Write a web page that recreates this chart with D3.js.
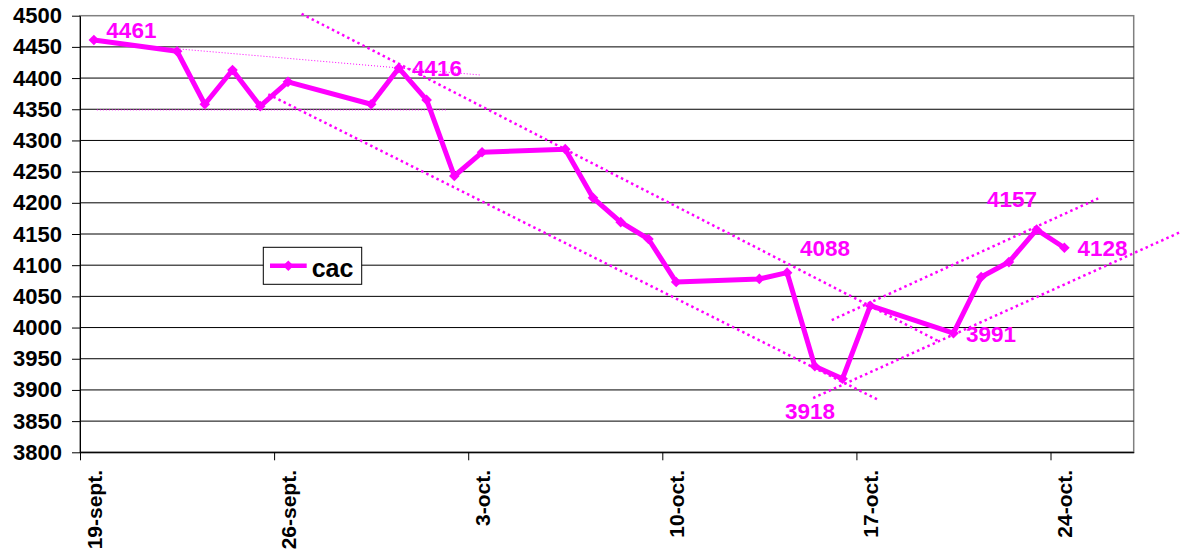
<!DOCTYPE html>
<html>
<head>
<meta charset="utf-8">
<script src="https://cdn.jsdelivr.net/npm/d3@7"></script>
<style>
  html, body { margin: 0; padding: 0; background: #fff; }
  svg { display: block; font-family: "Liberation Sans", Arial, sans-serif; font-weight: bold; }
</style>
</head>
<body>
<svg id="chart" width="1183" height="553"></svg>
<script>
// ---------- data ----------
const dates = ["2014-09-19","2014-09-22","2014-09-23","2014-09-24","2014-09-25","2014-09-26",
  "2014-09-29","2014-09-30","2014-10-01","2014-10-02","2014-10-03",
  "2014-10-06","2014-10-07","2014-10-08","2014-10-09","2014-10-10",
  "2014-10-13","2014-10-14","2014-10-15","2014-10-16","2014-10-17",
  "2014-10-20","2014-10-21","2014-10-22","2014-10-23","2014-10-24"];
const cac = [4461,4443,4358,4413,4355,4394,
  4358,4416,4365,4243,4281,
  4286,4208,4169,4142,4073,
  4078,4088,3938,3918,4035,
  3991,4081,4105,4157,4128];
const seriesName = "cac";

const yTickValues = [3800,3850,3900,3950,4000,4050,4100,4150,4200,4250,4300,4350,4400,4450,4500];
const xTickDates = ["2014-09-19","2014-09-26","2014-10-03","2014-10-10","2014-10-17","2014-10-24"];
const xTickLabels = ["19-sept.","26-sept.","3-oct.","10-oct.","17-oct.","24-oct."];
const xDomain = ["2014-09-19","2014-10-27"];

// annotated points (date of the point, text shown)
const labelDates = ["2014-09-19","2014-09-30","2014-10-14","2014-10-16","2014-10-20","2014-10-23","2014-10-24"];
const labelTexts = ["4461","4416","4088","3918","3991","4157","4128"];

// trend lines: [days after 19-sept, index value] start / end
const trendStarts = [[3.49,4447],[0.61,4349],[7.99,4503],[6.79,4374],[27.11,4012],[26.44,3887]];
const trendEnds   = [[14.42,4405],[13.27,4349],[31.01,3977],[28.79,3884],[36.72,4207],[39.73,4154]];
const trendKinds  = ["thin","thin","thick","thick","thick","thick"];

// ---------- layout ----------
const plotL = 80, plotR = 1133.7, plotT = 15.7, plotB = 452.3;
const MAGENTA = "#ff00ff";
// label offsets (px) relative to their point, same order as labelDates
const labelOffsets = [[12.5,-2],[13,8],[13,-17],[-57.6,40],[12.5,9],[-49.7,-23],[13,8]];

const parse = d3.utcParse("%Y-%m-%d");
const DAY = 864e5;
const svg = d3.select("#chart");

const x = d3.scaleUtc().domain(xDomain.map(parse)).range([plotL, plotR]);
const y = d3.scaleLinear().domain([3800, 4500]).range([plotB, plotT]);
const xc = s => x(new Date(+parse(s) + DAY / 2));   // point at middle of its day slot
const xd = d => x(new Date(+parse(xDomain[0]) + d * DAY));

// plot background
svg.append("rect").attr("x", plotL).attr("y", plotT)
  .attr("width", plotR - plotL).attr("height", plotB - plotT)
  .attr("fill", "#fff").attr("stroke", "#808080").attr("stroke-width", 1.5);

// gridlines
svg.append("g").selectAll("line").data(yTickValues.filter(v => v !== 4500)).join("line")
  .attr("x1", plotL).attr("x2", plotR)
  .attr("y1", d => y(d)).attr("y2", d => y(d))
  .attr("stroke", "#000").attr("stroke-width", 1);

// y axis
const yAxis = svg.append("g").attr("transform", `translate(${plotL},0)`)
  .call(d3.axisLeft(y).tickValues(yTickValues).tickSize(8).tickSizeOuter(0)
    .tickPadding(10).tickFormat(d3.format("d")));
yAxis.select(".domain").attr("stroke", "#000");
yAxis.selectAll(".tick line").attr("stroke", "#000");
yAxis.selectAll("text").attr("font-size", 22).attr("font-weight", "bold")
  .attr("fill", "#000").attr("font-family", "'Liberation Sans', Arial, sans-serif");

// x axis
const halfSlot = xc(xTickDates[0]) - x(parse(xTickDates[0]));
const xAxis = svg.append("g").attr("transform", `translate(0,${plotB})`)
  .call(d3.axisBottom(x).tickValues(xTickDates.map(parse)).tickSize(8).tickSizeOuter(0)
    .tickFormat((d, i) => xTickLabels[i]));
xAxis.select(".domain").attr("stroke", "#000");
xAxis.selectAll(".tick line").attr("stroke", "#000");
xAxis.selectAll("text")
  .attr("font-size", 21).attr("font-weight", "bold").attr("fill", "#000")
  .attr("font-family", "'Liberation Sans', Arial, sans-serif")
  .attr("transform", "rotate(-90)")
  .attr("text-anchor", "end")
  .attr("x", -17.7).attr("y", halfSlot).attr("dy", "0.35em");

// trend lines
const trends = trendStarts.map((s, i) => ({ s, e: trendEnds[i], kind: trendKinds[i] }));
svg.append("g").selectAll("line").data(trends).join("line")
  .attr("x1", d => xd(d.s[0])).attr("y1", d => y(d.s[1]))
  .attr("x2", d => xd(d.e[0])).attr("y2", d => y(d.e[1]))
  .attr("stroke", MAGENTA)
  .attr("stroke-width", d => d.kind === "thick" ? 2.5 : 1)
  .attr("stroke-dasharray", d => d.kind === "thick" ? "2.5,3.2" : "1,2");

// series line
const pts = dates.map((d, i) => ({ d, v: cac[i] }));
svg.append("path").datum(pts)
  .attr("fill", "none").attr("stroke", MAGENTA).attr("stroke-width", 5)
  .attr("stroke-linejoin", "round")
  .attr("d", d3.line().x(p => xc(p.d)).y(p => y(p.v)));

// markers
const diamond = d3.symbol().type(d3.symbolDiamond2).size(72);
svg.append("g").selectAll("path").data(pts).join("path")
  .attr("transform", p => `translate(${xc(p.d)},${y(p.v)})`)
  .attr("d", diamond).attr("fill", MAGENTA);

// annotations
svg.append("g").selectAll("text").data(labelDates).join("text")
  .attr("x", (d, i) => xc(d) + labelOffsets[i][0])
  .attr("y", (d, i) => y(cac[dates.indexOf(d)]) + labelOffsets[i][1])
  .attr("fill", MAGENTA).attr("font-size", 22.5).attr("font-weight", "bold")
  .text((d, i) => labelTexts[i]);

// legend
const lg = svg.append("g").attr("transform", "translate(263.3,247.3)");
lg.append("rect").attr("width", 98.4).attr("height", 37)
  .attr("fill", "#fff").attr("stroke", "#000").attr("stroke-width", 1);
lg.append("line").attr("x1", 6.7).attr("x2", 43.4).attr("y1", 18.4).attr("y2", 18.4)
  .attr("stroke", MAGENTA).attr("stroke-width", 4.5);
lg.append("path").attr("transform", "translate(25,18.4)").attr("d", diamond).attr("fill", MAGENTA);
lg.append("text").attr("x", 48.4).attr("y", 29.4).attr("font-size", 25)
  .attr("font-weight", "bold").attr("fill", "#000").text(seriesName);
</script>
</body>
</html>
